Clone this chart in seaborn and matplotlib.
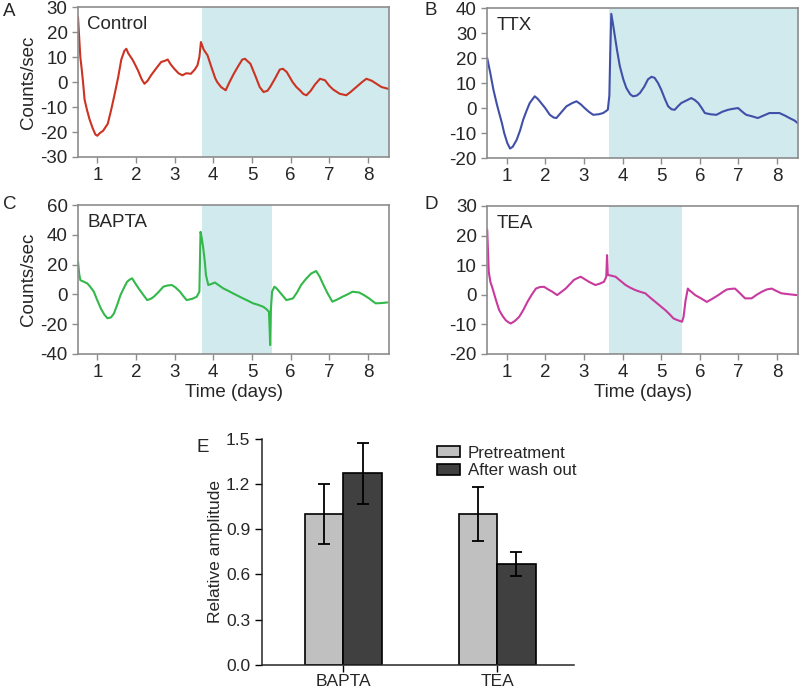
import matplotlib
matplotlib.use('Agg')
import matplotlib.pyplot as plt
import seaborn as sns
import pandas as pd
import numpy as np

# ---- panel A: control trace (time in days, counts/sec)
ctrl_t = [0.50, 0.53, 0.56, 0.59, 0.63, 0.67, 0.73, 0.80, 0.88, 0.95, 1.00, 1.06, 1.15, 1.27, 1.36,
          1.45, 1.54, 1.62, 1.70, 1.75, 1.80, 1.92, 2.05, 2.15, 2.22, 2.30, 2.39, 2.50, 2.65, 2.75,
          2.82, 2.90, 2.99, 3.10, 3.20, 3.30, 3.42, 3.52, 3.59, 3.64, 3.68, 3.75, 3.85, 3.95, 4.05,
          4.10, 4.20, 4.32, 4.42, 4.53, 4.65, 4.75, 4.82, 4.96, 5.10, 5.20, 5.30, 5.40, 5.47, 5.60,
          5.72, 5.80, 5.90, 6.05, 6.15, 6.24, 6.33, 6.41, 6.52, 6.63, 6.76, 6.89, 7.00, 7.10, 7.27,
          7.44, 7.55, 7.70, 7.85, 7.96, 8.10, 8.22, 8.35, 8.52]
ctrl_v = [26, 18, 10, 6, 0, -7, -11, -15, -18.5, -21, -21.5, -20.5, -19.5, -16.7, -11,
          -4.7, 2, 9, 12.5, 13.3, 11.5, 8.7, 4.7, 1, -0.7, 0.5, 2.7, 5, 8, 8.5,
          9, 7, 5.3, 3.5, 2.7, 3.5, 3.3, 5, 6.7, 10, 16, 13, 10.7, 6, 1.5,
          0, -2, -3.3, 0, 3.3, 6.5, 9, 9.3, 7.3, 2, -2, -4, -3.5, -2, 1.5,
          5, 5.3, 4, 0, -2, -3.3, -4.8, -5.3, -3.5, -1, 1.3, 0.7, -1.5, -3, -4.7,
          -5.3, -4, -2, 0, 1.3, 0.5, -0.7, -2, -2.7]

# ---- panel B: TTX
ttx_t = [0.50, 0.58, 0.66, 0.75, 0.81, 0.88, 0.94, 1.02, 1.09, 1.16, 1.26, 1.35, 1.43, 1.52, 1.60,
         1.67, 1.73, 1.80, 1.86, 2.00, 2.12, 2.22, 2.29, 2.40, 2.55, 2.70, 2.81, 2.92, 3.02, 3.13,
         3.24, 3.38, 3.50, 3.62, 3.66, 3.68, 3.71, 3.76, 3.80, 3.86, 3.93, 4.02, 4.10, 4.20, 4.27,
         4.37, 4.45, 4.56, 4.66, 4.75, 4.83, 4.92, 5.00, 5.10, 5.18, 5.27, 5.35, 5.44, 5.52, 5.65,
         5.78, 5.87, 5.96, 6.05, 6.13, 6.28, 6.43, 6.58, 6.73, 6.86, 6.99, 7.10, 7.20, 7.35, 7.50,
         7.65, 7.80, 7.93, 8.06, 8.20, 8.32, 8.45, 8.53]
ttx_v = [20, 14, 7.4, 1.5, -2, -6, -10, -14, -16.2, -15.5, -12.8, -9, -4.7, -1, 2,
         3.5, 4.7, 3.8, 2.7, 0, -2.7, -3.8, -4, -2, 0.7, 2, 2.7, 1.5, 0, -1.5,
         -2.7, -2.5, -2, -0.7, 5, 20, 37.7, 33, 29, 23, 16.8, 11.5, 8, 5.5, 4.7,
         5, 6, 8.5, 11.5, 12.5, 12.1, 10, 7.4, 3.5, 0.7, -0.5, -0.7, 0.8, 2, 3,
         4, 3.2, 2, 0, -2, -2.5, -2.7, -1.5, -0.7, -0.3, 0, -1.5, -2.7, -3.3, -4,
         -3, -2, -2, -2, -3, -4, -5, -6]

# ---- panel C: BAPTA
bapta_t = [0.50, 0.53, 0.56, 0.65, 0.74, 0.82, 0.91, 1.00, 1.09, 1.18, 1.26, 1.35, 1.43, 1.52, 1.60,
           1.69, 1.77, 1.84, 1.90, 1.98, 2.07, 2.18, 2.29, 2.38, 2.46, 2.58, 2.71, 2.82, 2.93, 3.03,
           3.14, 3.22, 3.31, 3.45, 3.57, 3.64, 3.66, 3.67, 3.70, 3.74, 3.78, 3.81, 3.87, 3.95, 4.04,
           4.15, 4.26, 4.38, 4.51, 4.64, 4.77, 4.90, 5.03, 5.16, 5.29, 5.38, 5.44, 5.46, 5.47, 5.49,
           5.52, 5.58, 5.64, 5.71, 5.80, 5.89, 5.97, 6.06, 6.17, 6.27, 6.40, 6.53, 6.66, 6.75, 6.83,
           6.95, 7.08, 7.20, 7.34, 7.47, 7.60, 7.77, 7.90, 8.03, 8.12, 8.20, 8.35, 8.50]
bapta_v = [22, 14, 9.6, 8.5, 7.4, 5, 1.8, -4, -9.4, -13.5, -16, -15.5, -12.8, -6.5, -0.4,
           4.5, 8.5, 10, 10.8, 7.5, 4, 0, -3.8, -3, -1.6, 1.5, 5.2, 6, 6.3, 4.5,
           1.8, -1, -3.8, -3, -1.6, 1.8, 30, 42, 38, 31, 22, 13, 6.3, 7, 8,
           6, 4, 2.5, 0.7, -1, -2.7, -4.3, -6, -7, -8.3, -10, -11.7, -25, -34, -10,
           1.8, 5.2, 4, 1.8, -1, -3.8, -3.3, -2.7, 1.5, 6.3, 10.5, 14, 15.7, 12, 7.4,
           1, -4.9, -3.5, -1.6, 0, 1.8, 1.3, -0.5, -2.7, -4.5, -6, -5.8, -5.4]

# ---- panel D: TEA
tea_t = [0.50, 0.52, 0.54, 0.58, 0.64, 0.72, 0.81, 0.90, 0.98, 1.05, 1.11, 1.22, 1.33, 1.44, 1.54,
         1.65, 1.76, 1.86, 1.97, 2.08, 2.19, 2.31, 2.42, 2.53, 2.64, 2.74, 2.83, 2.92, 3.02, 3.13,
         3.22, 3.30, 3.42, 3.52, 3.58, 3.60, 3.62, 3.70, 3.82, 3.95, 4.08, 4.20, 4.33, 4.46, 4.59,
         4.72, 4.85, 4.98, 5.11, 5.22, 5.32, 5.43, 5.54, 5.58, 5.63, 5.69, 5.72, 5.80, 5.88, 6.03,
         6.18, 6.33, 6.48, 6.60, 6.70, 6.80, 6.91, 7.04, 7.17, 7.34, 7.47, 7.60, 7.73, 7.86, 7.98,
         8.11, 8.30, 8.50]
tea_v = [22, 15, 7.8, 4.5, 2.1, -1.5, -5.2, -7.2, -8.6, -9.3, -9.7, -8.8, -7.4, -5, -2.4,
         0, 2.1, 2.6, 2.7, 1.8, 1, -0.1, 1, 2.1, 3.6, 5, 5.6, 6.1, 5.3, 4.4,
         3.8, 3.3, 3.8, 4.4, 6.1, 13.4, 6.7, 6.5, 6.1, 4.7, 3.3, 2.4, 1.6, 1, 0.5,
         -1, -2.4, -3.8, -5.2, -6.6, -8, -8.6, -9.1, -7.4, -2, 2.1, 1.6, 0.8, -0.1, -1.2,
         -2.4, -1.3, -0.1, 1, 1.8, 2.0, 2.1, 0.5, -1.2, -1.2, 0, 1, 1.8, 2.1, 1.3,
         0.5, 0.2, -0.1]

# ---- panel E: relative amplitude
drugs = ['BAPTA', 'TEA']
conditions = ['Pretreatment', 'After wash out']
pre_amp = [1.0, 1.0]
pre_err = [0.2, 0.18]
post_amp = [1.27, 0.67]
post_err = [0.2, 0.08]

sns.set_style('ticks')
plt.rcParams['font.family'] = ['Liberation Sans', 'DejaVu Sans']
plt.rcParams['axes.unicode_minus'] = False

fig = plt.figure(figsize=(8, 6.91), dpi=100)

shade = '#d0eaed'
spine_col = '#8c8c8c'


def timePanel(rect, t, v, color, name, ylim, yticks, span, letter, ylabel=False, xlabel=False):
    ax = fig.add_axes(rect)
    ax.axvspan(span[0], span[1], color=shade, lw=0, zorder=0)
    df = pd.DataFrame({'t': t, 'v': v})
    sns.lineplot(data=df, x='t', y='v', color=color, lw=1.5, ax=ax, zorder=2)
    ax.set_xlim(0.5, 8.55)
    ax.set_ylim(*ylim)
    ax.set_yticks(yticks)
    ax.set_xticks(range(1, 9))
    ax.tick_params(labelsize=13.5, length=4, width=1, color=spine_col, direction='out')
    for s in ax.spines.values():
        s.set_color(spine_col)
        s.set_linewidth(1.2)
    ax.set_ylabel('Counts/sec' if ylabel else '', fontsize=13.5, labelpad=2)
    ax.set_xlabel('Time (days)' if xlabel else '', fontsize=13.5, labelpad=2)
    ax.text(0.03, 0.94, name, transform=ax.transAxes, fontsize=13.5, va='top')
    fig.text(letter[0], letter[1], letter[2], fontsize=13.5, va='top')
    return ax


timePanel([0.0975, 0.7728, 0.389, 0.217], ctrl_t, ctrl_v, '#cc3322', 'Control',
          (-30, 30), range(-30, 31, 10), (3.70, 8.6), (0.004, 0.995, 'A'), ylabel=True)
timePanel([0.609, 0.7713, 0.389, 0.217], ttx_t, ttx_v, '#4050a8', 'TTX',
          (-20, 40), range(-20, 41, 10), (3.64, 8.6), (0.531, 0.997, 'B'))
timePanel([0.0975, 0.4877, 0.389, 0.2156], bapta_t, bapta_v, '#33b84a', 'BAPTA',
          (-40, 60), range(-40, 61, 20), (3.70, 5.52), (0.004, 0.716, 'C'), ylabel=True, xlabel=True)
timePanel([0.609, 0.4877, 0.389, 0.2142], tea_t, tea_v, '#c83a9e', 'TEA',
          (-20, 30), range(-20, 31, 10), (3.64, 5.55), (0.531, 0.716, 'D'), xlabel=True)

# bar chart
ax = fig.add_axes([0.3275, 0.038, 0.39, 0.327])
bars = pd.DataFrame({
    'drug': drugs * 2,
    'cond': [conditions[0]] * 2 + [conditions[1]] * 2,
    'amp': pre_amp + post_amp,
    'err': pre_err + post_err,
})
sns.barplot(data=bars, x='drug', y='amp', hue='cond', hue_order=conditions,
            palette=['#c0c0c0', '#404040'], width=0.5, errorbar=None,
            edgecolor='black', linewidth=1.2, ax=ax)
for i, cond in enumerate(conditions):
    sub = bars[bars['cond'] == cond]
    for j, cont in enumerate(ax.containers[i]):
        x = cont.get_x() + cont.get_width() / 2
        ax.errorbar(x, sub['amp'].iloc[j], yerr=sub['err'].iloc[j], color='black',
                    lw=1.3, capsize=4, capthick=1.3, zorder=5)
ax.set_xlim(-0.53, 1.5)
ax.set_ylim(0, 1.5)
ax.set_yticks([0, 0.3, 0.6, 0.9, 1.2, 1.5])
ax.set_yticklabels(['0.0', '0.3', '0.6', '0.9', '1.2', '1.5'])
ax.tick_params(axis='y', labelsize=12.5, length=5, width=1, color='black')
ax.tick_params(axis='x', labelsize=12.5, length=5, width=1, color='black', pad=1.5)
ax.set_xlabel('')
ax.set_ylabel('Relative amplitude', fontsize=12.5, labelpad=2)
sns.despine(ax=ax)
for s in ax.spines.values():
    s.set_linewidth(1.1)
leg = ax.legend(loc='upper right', bbox_to_anchor=(1.03, 1.0), frameon=False, fontsize=12.2,
                handlelength=1.35, handleheight=0.6, handletextpad=0.5, labelspacing=0.15,
                borderaxespad=0)
fig.text(0.245, 0.365, 'E', fontsize=13.5, va='top')

fig.savefig('out.png', dpi=100)
